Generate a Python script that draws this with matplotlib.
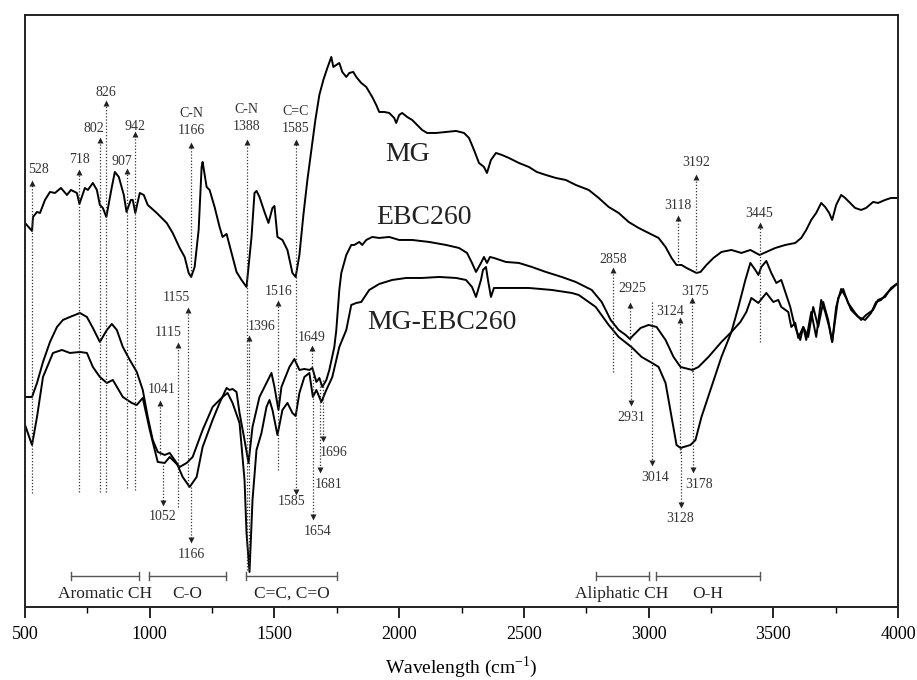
import numpy as np
import matplotlib.pyplot as plt

plt.rcParams['font.family'] = ['Liberation Serif', 'DejaVu Serif']
plt.rcParams['mathtext.fontset'] = 'custom'
plt.rcParams['mathtext.rm'] = 'Liberation Serif'

# Espectros FTIR (intensidad en unidades arbitrarias)
mg_wn = [500, 528, 532, 548, 560, 580, 600, 620, 644, 668, 684, 708, 718, 740, 752, 772, 788, 800, 812, 826,
         848, 860, 876, 896, 907, 924, 932, 942, 960, 976, 992, 1028, 1068, 1092, 1120, 1140, 1156, 1166, 1180,
         1196, 1208, 1212, 1228, 1240, 1260, 1280, 1292, 1308, 1328, 1348, 1368, 1388, 1408, 1420, 1428, 1440,
         1460, 1476, 1492, 1500, 1512, 1532, 1552, 1572, 1585, 1600, 1616, 1632, 1648, 1664, 1680, 1696, 1712,
         1728, 1736, 1748, 1760, 1772, 1788, 1800, 1816, 1828, 1848, 1868, 1892, 1908, 1920, 1940, 1960, 1980,
         1988, 2000, 2012, 2032, 2052, 2072, 2092, 2112, 2148, 2188, 2228, 2260, 2280, 2300, 2320, 2340, 2352,
         2368, 2388, 2412, 2440, 2480, 2520, 2552, 2588, 2628, 2668, 2708, 2760, 2800, 2840, 2880, 2920, 2960,
         3000, 3040, 3068, 3092, 3112, 3132, 3152, 3192, 3208, 3232, 3260, 3292, 3332, 3372, 3408, 3445, 3472,
         3508, 3548, 3588, 3612, 3632, 3652, 3672, 3692, 3708, 3724, 3736, 3752, 3772, 3788, 3808, 3828, 3852,
         3872, 3900, 3920, 3948, 3972, 4000]
mg_t = [384, 376, 390, 395, 394, 407, 415, 414, 419, 412, 417, 414, 403, 419, 417, 424, 417, 402, 399, 390,
        420, 435, 430, 412, 395, 407, 407, 394, 414, 412, 402, 394, 384, 374, 359, 350, 334, 330, 340,
        377, 440, 445, 420, 417, 400, 380, 370, 373, 354, 335, 327, 320, 370, 414, 416, 410,
        395, 384, 399, 401, 370, 367, 357, 334, 330, 352, 392, 427, 457, 487, 512, 527, 539,
        550, 540, 542, 544, 535, 530, 534, 535, 530, 524, 520, 510, 502, 495, 495, 494, 489,
        484, 492, 494, 490, 487, 482, 477, 474, 474, 475, 476, 474, 469, 457, 444, 440, 434,
        447, 454, 452, 449, 444, 440, 435, 432, 429, 427, 422, 417, 409, 400, 394, 385, 379,
        374, 369, 360, 349, 342, 342, 339, 334, 335, 342, 349, 355, 357, 354, 357, 352, 355,
        359, 362, 364, 369, 377, 387, 394, 404, 400, 394, 387, 402, 412, 409, 404, 399, 397,
        399, 405, 404, 407, 409, 409]

ebc_wn = [500, 528, 548, 572, 600, 628, 652, 680, 720, 748, 772, 800, 828, 848, 868, 892, 920, 948, 972, 992,
          1012, 1032, 1060, 1080, 1108, 1132, 1160, 1188, 1212, 1252, 1280, 1308, 1320, 1332, 1348, 1360, 1380,
          1396, 1412, 1440, 1468, 1488, 1500, 1516, 1528, 1560, 1580, 1600, 1620, 1640, 1652, 1668, 1680, 1692,
          1708, 1720, 1740, 1748, 1760, 1768, 1788, 1808, 1820, 1840, 1852, 1868, 1892, 1920, 1960, 2000, 2052,
          2120, 2188, 2240, 2272, 2292, 2308, 2328, 2340, 2352, 2364, 2380, 2428, 2480, 2532, 2588, 2652, 2708,
          2772, 2812, 2848, 2880, 2908, 2925, 2940, 2968, 3000, 3032, 3068, 3100, 3128, 3175, 3200, 3240, 3292,
          3332, 3368, 3392, 3412, 3440, 3472, 3500, 3520, 3532, 3560, 3572, 3588, 3600, 3620, 3632, 3652, 3672,
          3692, 3708, 3724, 3736, 3752, 3772, 3792, 3812, 3840, 3868, 3892, 3912, 3932, 3960, 4000]
ebc_t = [210, 210, 224, 245, 265, 280, 287, 290, 294, 290, 279, 265, 277, 283, 277, 260, 247, 235, 217, 190,
         167, 155, 152, 154, 144, 130, 120, 130, 160, 187, 204, 219, 217, 218, 215, 194, 167,
         144, 180, 210, 224, 234, 220, 197, 220, 240, 248, 237, 238, 237, 239, 225, 229, 220,
         227, 237, 260, 277, 317, 334, 352, 362, 362, 365, 362, 367, 370, 369, 370, 367, 367,
         365, 362, 359, 354, 344, 335, 344, 350, 344, 350, 349, 345, 344, 340, 335, 330, 325,
         317, 305, 287, 277, 272, 268, 272, 279, 282, 280, 267, 250, 240, 237, 240, 250, 265,
         275, 285, 295, 309, 304, 314, 305, 307, 300, 295, 280, 284, 269, 280, 267, 295, 270,
         307, 295, 280, 265, 300, 318, 309, 297, 290, 287, 294, 305, 307, 315, 324]

mgebc_wn = [500, 528, 548, 572, 612, 648, 680, 720, 748, 772, 800, 828, 852, 892, 928, 948, 972, 1000, 1032,
            1060, 1080, 1120, 1148, 1172, 1212, 1252, 1292, 1312, 1332, 1360, 1380, 1388, 1400, 1412, 1428,
            1448, 1468, 1480, 1492, 1512, 1532, 1552, 1572, 1585, 1600, 1620, 1640, 1654, 1668, 1688, 1708,
            1732, 1760, 1788, 1808, 1828, 1848, 1880, 1920, 1972, 2028, 2092, 2160, 2228, 2268, 2292, 2308,
            2328, 2336, 2348, 2356, 2368, 2380, 2428, 2520, 2612, 2692, 2720, 2788, 2840, 2880, 2931, 2972,
            3014, 3040, 3068, 3092, 3112, 3128, 3168, 3188, 3212, 3252, 3292, 3332, 3360, 3388, 3408, 3428,
            3440, 3452, 3472, 3492, 3512, 3532, 3548, 3568, 3580, 3592, 3608, 3620, 3640, 3660, 3680, 3700,
            3720, 3736, 3760, 3780, 3800, 3828, 3852, 3872, 3900, 3920, 3948, 3972, 4000]
mgebc_t = [182, 162, 190, 230, 254, 257, 254, 255, 254, 240, 230, 224, 227, 210, 204, 202, 209, 177, 145,
           144, 150, 140, 144, 150, 177, 200, 210, 214, 204, 184, 127, 74, 35, 107, 157,
           174, 200, 207, 197, 172, 197, 204, 194, 191, 214, 230, 234, 210, 217, 205, 217,
           230, 260, 277, 302, 304, 305, 317, 323, 327, 329, 329, 330, 329, 327, 320, 310,
           327, 337, 340, 327, 310, 319, 319, 319, 317, 314, 312, 300, 282, 270, 260, 250,
           244, 240, 224, 190, 162, 159, 162, 167, 190, 220, 250, 275, 300, 327, 344, 337,
           332, 340, 346, 334, 324, 327, 315, 300, 287, 277, 267, 280, 270, 300, 280, 305,
           287, 265, 309, 318, 304, 294, 287, 292, 297, 307, 310, 319, 324]

# Anotaciones: posición, texto, inicio y punta de la flecha (misma escala), desplazamiento del texto
ann_x = [528, 718, 802, 826, 907, 942, 1166, 1388, 1585, 3118, 3192, 3445,
         1155, 1115, 1041, 1396, 1516, 1649, 2858, 2925, 3124, 3175,
         1052, 1166, 1585, 1654, 1681, 1696, 2931, 3014, 3128, 3178]
ann_label = ['528', '718', '802', '826', '907', '942', '1166', '1388', '1585', '3118', '3192', '3445',
             '1155', '1115', '1041', '1396', '1516', '1649', '2858', '2925', '3124', '3175',
             '1052', '1166', '1585', '1654', '1681', '1696', '2931', '3014', '3128', '3178']
ann_from = [114, 115, 115, 115, 119, 117, 330, 37, 330, 342, 334, 265,
            120, 100, 152, 37, 137, 237, 235, 267, 154, 235,
            145, 120, 330, 237, 224, 227, 262, 305, 159, 237]
ann_to = [424, 435, 467, 504, 436, 473, 462, 465, 465, 389, 430, 382,
          297, 262, 204, 269, 304, 259, 337, 302, 287, 307,
          104, 67, 115, 90, 137, 168, 204, 144, 102, 137]
ann_text_y = [437, 447, 478, 514, 445, 480, 476, 480, 478, 401, 444, 393,
              309, 274, 217, 280, 315, 269, 347, 318, 295, 315,
              90, 52, 105, 75, 122, 154, 189, 129, 88, 122]
ann_dx = [24, 0, -28, 0, -20, 0, 0, 0, 0, 0, 0, 0,
          -48, -40, 8, 52, 0, 0, 0, 8, -36, 12,
          0, 0, -16, 20, 36, 40, 0, 12, 0, 24]

bond_groups = ['C-N', 'C-N', 'C=C']
bond_x = [1166, 1388, 1585]

region_names = ['Aromatic CH', 'C-O', 'C=C, C=O', 'Aliphatic CH', 'O-H']
region_start = [684, 996, 1384, 2788, 3028]
region_end = [956, 1304, 1752, 3000, 3448]

fig = plt.figure(figsize=(9.17, 6.8), dpi=100)
ax = fig.add_axes([0.0273, 0.1074, 0.9520, 0.8706])

ax.plot(mg_wn, mg_t, color='black', lw=1.4)
ax.plot(ebc_wn, ebc_t, color='black', lw=1.4)
ax.plot(mgebc_wn, mgebc_t, color='black', lw=1.4)

ax.text(2032, 452, 'MG', fontsize=20, ha='center', va='center', color='#222222')
ax.text(2100, 389, 'EBC260', fontsize=20, ha='center', va='center', color='#222222')
ax.text(2172, 284, 'MG-EBC260', fontsize=20, ha='center', va='center', color='#222222')

# Líneas punteadas con flechas
for x, lab, y0, y1, ty, dx in zip(ann_x, ann_label, ann_from, ann_to, ann_text_y, ann_dx):
    ax.plot([x, x], [y0, y1], ls=(0, (1, 1.5)), color='#333333', lw=0.9)
    ax.plot(x, y1, marker='^' if y1 > y0 else 'v', color='#222222', ms=5, mec='none')
    ax.text(x + dx, ty, lab, fontsize=10, ha='center', va='center', color='#333333')

for x, lab in zip(bond_x, bond_groups):
    ty = ann_text_y[ann_x.index(x)]
    ax.text(x, ty + 17, lab, fontsize=10, ha='center', va='center', color='#333333')

# Regiones
for name, a, b in zip(region_names, region_start, region_end):
    ax.plot([a, b], [31, 31], color='#555555', lw=1.0)
    ax.plot([a, a], [27, 35], color='#555555', lw=1.0)
    ax.plot([b, b], [27, 35], color='#555555', lw=1.0)
    ax.text((a + b) / 2, 13, name, fontsize=12.5, ha='center', va='center', color='#222222')

ax.set_xlim(500, 4000)
ax.set_ylim(0, 592)
ax.set_xticks(np.arange(500, 4001, 500))
ax.set_xticks(np.arange(750, 4000, 500), minor=True)
ax.tick_params(axis='x', which='major', direction='out', length=8, width=1.2, labelsize=13, pad=6)
ax.tick_params(axis='x', which='minor', direction='out', length=4, width=1.0)
ax.set_yticks([])
for s in ax.spines.values():
    s.set_linewidth(1.4)
    s.set_color('#222222')
ax.set_xlabel('Wavelength (cm$^{\\mathregular{-1}}$)', fontsize=14, labelpad=8)

fig.savefig('out.png', dpi=100)
